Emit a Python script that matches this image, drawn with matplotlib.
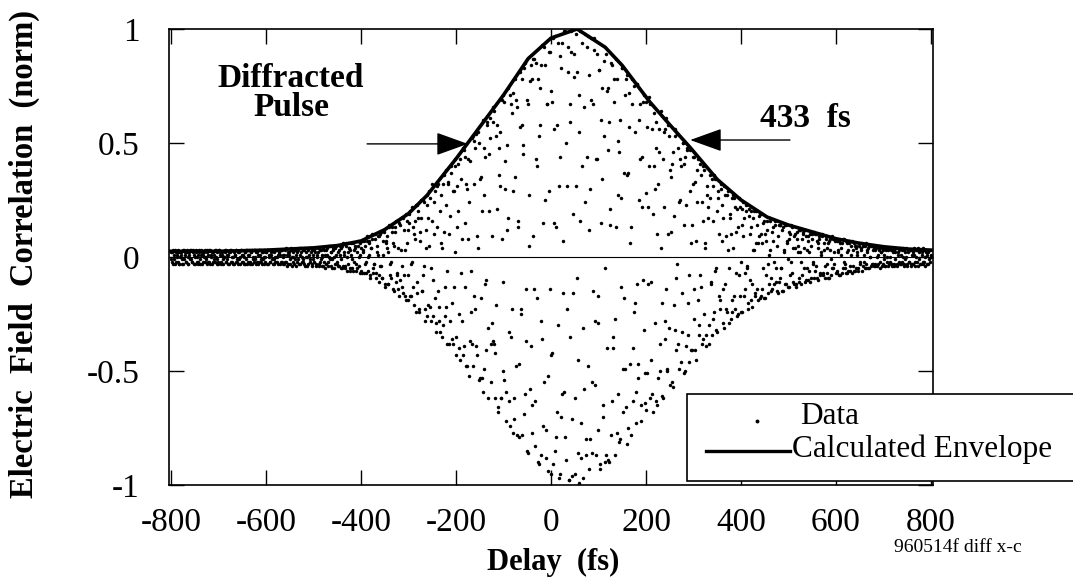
"""
Electric field cross-correlation of the diffracted pulse:
sampled data points plus the calculated envelope (FWHM 433 fs).
"""

import matplotlib.pyplot as plt
import numpy as np
from matplotlib.patches import Rectangle

# ---------------------------------------------------------------------------
# Data
# ---------------------------------------------------------------------------
# two interleaved sampling passes: even delays -800..800, odd delays -799..799
# values are in hundredths, one row = 20 samples (40 fs)
even_left = [
    2, -2, 3, -1, -3, 2, 1, -2, 3, -3, 0, 2, -1, -3, 3, 1, -2, 2, -3, 1,
    -1, 3, -2, 2, -3, 0, 3, -2, 1, -3, 2, -1, 3, -3, 1, 2, -2, 0, 3, -2,
    3, -3, 1, 2, -2, -1, 3, 0, -3, 2, -2, 3, 1, -3, 2, -1, 0, 3, -2, 1,
    -3, 2, 3, -2, 0, -3, 2, 1, -2, 3, -1, -3, 2, 0, 3, -2, 1, -3, 2, -1,
    3, -2, 1, -3, 2, 3, -1, -2, 0, 3, -3, 2, 1, -2, 3, -1, -3, 2, 0, -2,
    2, -3, 3, 0, -2, 1, 3, -3, 2, -1, -2, 3, 0, -3, 2, 1, -2, 3, -3, 1,
    -2, 4, 1, -3, 2, -1, 3, -4, 0, 2, -3, 3, 1, -2, -1, 4, -3, 2, 0, -2,
    3, -4, 2, 0, -3, 4, -1, 2, -4, 3, 1, -2, 4, -3, 0, 2, -4, 3, -1, 1,
    -4, 3, 1, -3, 4, -2, 0, 5, -4, 2, -1, 3, -5, 4, 1, -3, 2, -4, 5, -1,
    5, -4, 2, -5, 6, 0, -3, 4, -6, 3, 1, -5, 6, -2, 4, -6, 2, 5, -4, 1,
    -6, 7, 3, -7, 5, -2, 7, -6, 1, 6, -8, 4, 8, -5, -3, 8, -7, 2, 9, -8,
]
even_center = [
    10, -4, -9, 7, 12, -12, 6, 9, -12, 2, 14, -8, -2, 13, -14, 5, 13, -11, -7, 16,
    -17, 14, 3, -13, 17, -8, -17, 19, 6, -19, 12, 19, -17, -3, 22, -13, 10, 16, -24, 23,
    17, -23, 11, 25, -15, -8, 24, -28, 4, 23, -26, 17, 29, -22, -5, 32, -26, 10, 29, -33,
    31, -15, -28, 20, 6, -35, 32, 11, -26, 38, -22, -6, 32, -38, 18, 40, -36, 29, -13, 40,
    -43, 31, 20, -40, 43, -7, -28, 48, -39, 15, 44, -48, 30, 8, -52, 42, -24, -38, 53, -17,
    48, -39, 9, 55, -54, 34, -18, -53, 60, 27, -49, 44, -10, 59, -62, 20, 52, -38, -29, 66,
    -38, -62, 53, 21, -68, 48, 31, -62, 69, -11, -50, 68, 42, -59, 12, 74, -33, -74, 67, -23,
    72, -62, 35, 69, -78, 13, -47, 81, -25, 58, -78, 49, 83, -60, -14, 69, -86, 27, 77, -39,
    -77, 87, -14, -63, 85, 40, -90, 53, 74, -28, -87, 93, 15, -55, 84, -76, 67, -94, 29, 90,
    -43, 68, -91, 15, 97, -79, 58, -30, -97, 88, 44, -70, 94, -16, -59, 99, -89, 31, 81, -98,
    59, 99, -71, -16, 89, -95, 31, 81, -45, -99, 71, 16, -88, 94, -31, -58, 98, -80, 44, 97,
    -93, 30, 69, -86, -15, 96, -56, 43, 89, -76, -29, 82, -91, 15, 74, -65, 53, -90, 89, -40,
    74, -90, 14, 85, -63, -40, 78, -27, 87, -77, 51, 27, -81, 60, -13, 83, -68, 37, -49, 78,
    -82, 37, 72, -47, 13, 78, -63, -24, 55, -73, 76, -12, -53, 60, 43, -72, 22, 68, -32, -64,
    68, -51, 22, 70, -62, -11, 56, -68, 40, 30, -63, 59, 10, -53, 46, -38, 64, -20, -62, 55,
    -28, 61, -49, 10, 53, -56, 35, 41, -57, 18, 53, -32, -9, 54, -38, 24, 43, -46, -16, 50,
    41, -50, 23, 47, -34, -8, 47, -41, 14, 32, -27, 44, -41, 7, 38, -19, -34, 41, -13, 24,
    -36, 38, 6, -39, 27, 22, -30, 36, -11, -34, 31, 16, -24, 34, -5, -33, 26, 10, -19, 30,
    23, -14, -31, 27, 9, -24, 29, -5, 17, -27, 26, -19, 4, 26, -23, 11, 21, -25, -8, 22,
    -24, 14, 24, -17, -7, 20, -4, -23, 18, 10, -19, 20, -12, 3, 20, -16, 6, 14, -19, 9,
    19, -17, 6, 15, -18, 10, -8, 16, -3, -12, 17, 3, -15, 11, 7, -12, 14, -5, -15, 9,
    -11, 14, -5, -15, 13, 2, -12, 14, 6, -13, 8, 11, -8, -2, 13, -11, 9, 4, -12, 11,
    5, -11, 12, -2, -8, 11, 4, -11, 9, -5, 7, -10, 2, 10, -9, 8, -3, 11, -6, 10,
    -9, 6, 8, -7, 2, 9, -8, 3, -4, 9, -7, 4, 6, -9, 8, -1, -5, 8, -3, 7,
]
even_right = [
    8, -7, 3, 7, -8, 1, 6, -5, 8, -3, -7, 6, 2, -6, 7, -4, 5, -7, 3, 6,
    -6, 5, 2, -5, 6, -2, 4, -6, 5, 1, -5, 6, -3, 3, -5, 5, 0, -4, 5, -3,
    4, -3, 5, -4, 1, 3, -5, 2, 4, -3, -1, 4, -4, 3, 0, -4, 4, -2, 3, -3,
    3, -4, 2, 4, -3, 1, -2, 4, -3, 3, 0, -4, 3, -1, 4, -3, 2, -2, 3, -4,
    -3, 3, 1, -4, 3, -2, 4, -1, -3, 3, 2, -3, 4, -2, 0, 3, -3, 2, -1, 3, 1,
]
odd_left = [
    -1, 2, -3, 1, 3, -2, 0, 2, -3, 2, 1, -3, 3, -1, 2, -2, 3, 0, -3, 2,
    3, -1, -2, 3, 1, -3, 2, 0, -2, 3, -3, 1, 2, -2, 0, 3, -1, -3, 2, 1,
    -2, 3, 0, -3, 2, 1, -2, 3, -1, -3, 3, 2, -2, 1, -3, 0, 2, -2, 3, -1,
    1, -3, 2, 3, -2, 0, -3, 1, 3, -2, 2, -1, -3, 3, 1, -2, 0, 2, -3, 3,
    -3, 1, 3, -2, 2, -3, 0, 3, -1, 2, -2, -3, 3, 1, -2, 2, -1, 3, -3, 0,
    2, 3, -3, 1, -2, 2, -1, 3, -3, 0, 3, -2, 1, 2, -3, 3, -2, 0, 1, -3,
    3, -2, -4, 2, 1, -3, 4, 0, -2, 3, -1, -4, 2, 3, -3, 1, 4, -2, -1, 3,
    -3, 4, 0, -4, 3, 1, -2, 4, -3, -1, 3, 2, -4, 1, 4, -3, -2, 3, 0, -4,
    4, -2, -5, 3, 1, -4, 5, -1, 2, -5, 4, 0, -3, 5, -2, -4, 3, 1, -5, 4,
    -5, 6, 1, -4, 5, -6, 2, 4, -5, 6, -1, -6, 3, 5, -3, -5, 7, 0, -7, 6,
]
odd_center = [
    4, -7, 2, 7, -3, -7, 9, 0, 7, -9, 4, 10, -7, -3, 10, -9, 5, 1, -11, 9,
    -4, 11, -9, 1, 11, -13, 7, 4, -12, 13, -3, -9, 11, 6, -15, 11, 16, -8, -14, 4,
    15, -10, 17, -4, -16, 12, 3, -19, 16, -8, 15, 20, -17, -2, 13, -21, 8, 23, -16, -11,
    20, -24, 7, 17, -15, 25, -4, -23, 12, 27, -21, 5, 26, -28, 16, -10, 24, -18, 32, -29,
    13, 32, -22, -33, 27, 4, -30, 36, -13, 23, -38, 33, 10, -28, 37, -20, -38, 29, 2, 43,
    -35, 13, 41, -25, -45, 34, 8, -43, 47, -13, 32, -48, 43, 24, -37, -6, 52, -48, 32, 51,
    -23, 54, -43, 4, 50, -53, 35, 20, -59, 48, -12, -41, 58, -31, 45, 61, -55, 9, -37, 59,
    64, -42, -21, 58, -66, 36, 55, -62, 8, 71, -54, 30, -72, 49, 17, -63, 71, -35, 63, -77,
    29, -71, 78, -48, 66, 16, -79, 57, -23, 78, 45, -69, 85, -37, -85, 67, 5, -58, 84, 78,
    -65, 9, 87, -83, 43, -18, 78, -91, 58, 84, -36, -74, 92, 25, -88, 67, -52, 90, -14, -95,
    73, -42, 96, 56, -85, 13, -68, 94, 31, -95, 83, -60, 7, 99, -79, 50, -23, 92, -98, 67,
    -35, 90, -96, 19, 79, -62, 98, -9, -86, 55, 99, -73, 40, -97, 66, 24, -87, 92, -48, 80,
    12, -80, 96, -55, 67, 91, -28, -87, 43, -17, 82, -93, 60, 34, -70, 86, -5, -87, 73, 47,
    -89, 59, 21, -78, 84, -35, 68, -87, 13, 78, -60, 46, -80, 26, 83, -49, -18, 71, -66, 80,
    36, -75, 57, 6, -78, 67, -40, 75, -20, -59, 76, -47, 25, 67, -65, 44, -10, 71, -51, 28,
    -67, 57, -12, 40, 67, -45, -60, 19, 63, -29, 48, -65, 32, 56, -50, 4, -61, 43, 22, -36,
    56, -14, -50, 58, -31, 38, 11, -55, 46, -21, 56, -41, -3, 48, -49, 25, 40, -33, 50, -51,
    14, 44, -39, 48, -20, -46, 29, 6, -41, 44, -14, 33, -45, 24, 43, -30, -8, 36, -38, 16,
    40, -25, 4, -34, 31, 17, -38, 26, -12, 34, -27, 36, -6, -32, 20, 29, -17, -23, 32, 7,
    -29, 17, 31, -12, -23, 27, 3, -29, 19, 10, -24, 27, -17, 22, -7, -26, 13, 26, -17, -2,
    21, -24, 9, 17, -14, 23, -5, -20, 21, -10, 13, -22, 17, 3, -17, 20, -14, 6, 18, -18,
    10, 19, -14, -5, 16, -18, 7, 12, -16, 1, 16, -9, -14, 13, -2, 16, -11, 5, -16, 14,
    -9, 14, -5, 12, -15, 3, 14, -12, 7, -1, -13, 10, 14, -7, 4, -12, 10, -13, 8, 2,
    12, -9, 2, -12, 8, 10, -5, 12, -10, 3, 9, -6, -11, 5, 10, -2, -9, 10, -4, 7,
    -10, 4, 9, -8, 1, 10, -7, 6, -9, 8, -3, -9, 7, 3, -8, 9, -5, 2, 8, -7,
    7, -6, 2, -8, 6, 4, -7, 8, -2, -5, 7, -7, 3, 6, -6, 1, 7, -4, -6, 5,
]
odd_right = [
    -5, 4, 1, -6, 5, -3, 3, 6, -4, -2, 5, -5, 2, 4, -5, 0, 5, -3, 3, -4,
    3, -4, 4, 0, -3, 4, -2, 2, -4, 3, 1, -4, 4, -2, 3, -3, 0, 4, -4, 2,
    -3, 3, -1, 4, -4, 2, 3, -3, 1, -2, 4, -3, 2, 0, -4, 3, -2, 3, -3, 1,
    2, -3, 4, -2, 0, 3, -4, 2, 3, -3, 1, -2, 3, -4, 2, 1, -3, 3, -2, 0,
]

# calculated envelope
env_delay = [-800, -700, -600, -500, -450, -400, -350, -300, -261, -200, -175,
             -150, -100, -48, 0, 55, 114, 150, 208, 250, 293, 350, 400, 455,
             500, 550, 600, 650, 700, 750, 800]
env_value = [0.025, 0.025, 0.03, 0.04, 0.05, 0.07, 0.12, 0.19, 0.27, 0.43, 0.50,
             0.57, 0.71, 0.87, 0.96, 1.0, 0.92, 0.84, 0.68, 0.58, 0.48, 0.34,
             0.25, 0.175, 0.14, 0.11, 0.08, 0.06, 0.045, 0.035, 0.03]

x_ticks = [-800, -600, -400, -200, 0, 200, 400, 600, 800]
y_ticks = [-1, -0.5, 0, 0.5, 1]
y_ticklabels = ["-1", "-0.5", "0", "0.5", "1"]

delay_even = np.arange(-800, 801, 2)
delay_odd = np.arange(-799, 800, 2)
signal_even = np.array(even_left + even_center + even_right) / 100.0
signal_odd = np.array(odd_left + odd_center + odd_right) / 100.0

delays = np.concatenate([delay_even, delay_odd])
signal = np.concatenate([signal_even, signal_odd])

# ---------------------------------------------------------------------------
# Plot
# ---------------------------------------------------------------------------
plt.rcParams.update({
    "font.family": "Liberation Serif",
    "font.size": 24,
    "axes.unicode_minus": False,
})

fig = plt.figure(figsize=(10.73, 5.82), dpi=100)
ax = fig.add_axes([0.1575, 0.1667, 0.712, 0.7835])

ax.plot(delays, signal, "o", ms=2.5, mew=0, color="black", zorder=2)
ax.plot(env_delay, env_value, "-", lw=2.6, color="black", zorder=3)
ax.axhline(0, color="black", lw=0.8, zorder=1)

ax.set_xlim(-804, 804)
ax.set_ylim(-1, 1)
ax.set_xticks(x_ticks)
ax.set_yticks(y_ticks)
ax.set_yticklabels(y_ticklabels)
ax.tick_params(direction="in", length=11, width=1.0, top=True, right=True)
ax.tick_params(axis="x", pad=16)
ax.tick_params(axis="y", pad=21)
for s in ax.spines.values():
    s.set_linewidth(1.2)

ax.set_xlabel("Delay  (fs)", fontsize=22, weight="bold", va="center")
ax.xaxis.set_label_coords(0.503, -0.169)
ax.set_ylabel("Electric  Field  Correlation  (norm)", fontsize=23.5,
              weight="bold", va="center")
ax.yaxis.set_label_coords(-0.189, 0.506)

# annotations
ax.text(-547, 0.746, "Diffracted", ha="center", va="baseline",
        fontsize=24, weight="bold")
ax.text(-547, 0.618, "Pulse", ha="center", va="baseline",
        fontsize=24, weight="bold")
ax.text(535, 0.57, "433  fs", ha="center", va="baseline",
        fontsize=24, weight="bold")

arrow = dict(arrowstyle="-|>,head_length=1.0,head_width=0.36",
             color="black", lw=1.0, mutation_scale=20, shrinkA=0, shrinkB=0)
ax.annotate("", xy=(-175, 0.496), xytext=(-387, 0.496), arrowprops=arrow)
ax.annotate("", xy=(293, 0.513), xytext=(503, 0.513), arrowprops=arrow)

# legend box, drawn by hand: it runs past the right edge of the figure
W, H = 1073, 582
fig.patches.append(Rectangle((687 / W, 1 - 481 / H), 0.4, (481 - 394) / H,
                             transform=fig.transFigure, facecolor="white",
                             edgecolor="black", lw=1.2, zorder=5))
fig.lines.append(plt.Line2D([757 / W], [1 - 421 / H], marker="o", ms=2.8,
                            mew=0, color="black", transform=fig.transFigure,
                            zorder=6))
fig.lines.append(plt.Line2D([706 / W, 790 / W], [1 - 451 / H, 1 - 451 / H],
                            lw=2.4, color="black", transform=fig.transFigure,
                            zorder=6))
fig.text(800 / W, 1 - 424 / H, "Data", fontsize=22.5, va="baseline", zorder=6)
fig.text(792 / W, 1 - 457 / H, "Calculated Envelope", fontsize=22.5,
         va="baseline", zorder=6)

fig.text(958 / W, 1 - 548 / H, "960514f diff x-c", fontsize=14,
         ha="center", va="center")

fig.savefig("out.png", dpi=100)
